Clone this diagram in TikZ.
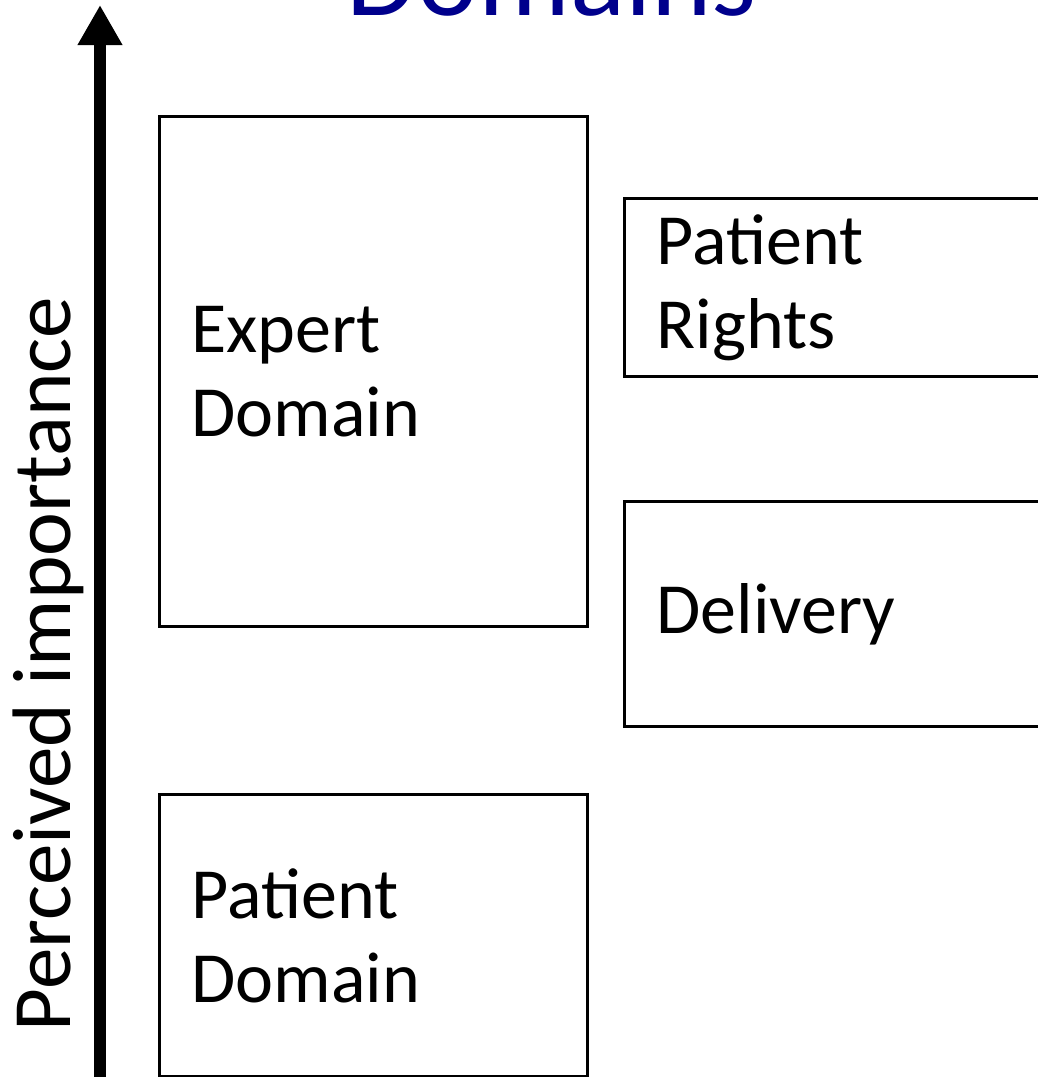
\documentclass[tikz,border=0pt]{standalone}
\usepackage{fontspec}
\setmainfont{Carlito}
\usepackage{xcolor}
\usepackage{tikz}
\usetikzlibrary{arrows.meta}
\definecolor{titleblue}{RGB}{0,0,140}

\begin{document}
\begin{tikzpicture}[x=1pt,y=-1pt,
    domainbox/.style={draw, line width=3pt, anchor=north west, align=left,
      inner xsep=32pt, font=\fontsize{72}{84}\selectfont}]
    \useasboundingbox (0,0) rectangle (1038,1077);
    \node[titleblue, anchor=base, font=\fontsize{115}{130}\selectfont] (title) at (552,15) {Domains};
    \coordinate (axisbot) at (100,1095);
    \coordinate (axistop) at (100,5);
    \draw[line width=12pt, -{Triangle[width=42pt,length=40pt]}] (axisbot) -- (axistop);
    \node[rotate=90, anchor=base, font=\fontsize{83}{96}\selectfont] (ylabel) at (70,664) {Perceived importance};
    \node[domainbox, text width=364pt, minimum height=510pt] (expert) at (158,115) {Expert\\Domain};
    \node[domainbox, text width=364pt, minimum height=282pt] (patient) at (158,793) {Patient\\Domain};
    \node[domainbox, text width=400pt, minimum height=178pt] (rights) at (623,197) {Patient\\Rights};
    \node[domainbox, text width=400pt, minimum height=225pt] (delivery) at (623,500) {Delivery};
\end{tikzpicture}
\end{document}
